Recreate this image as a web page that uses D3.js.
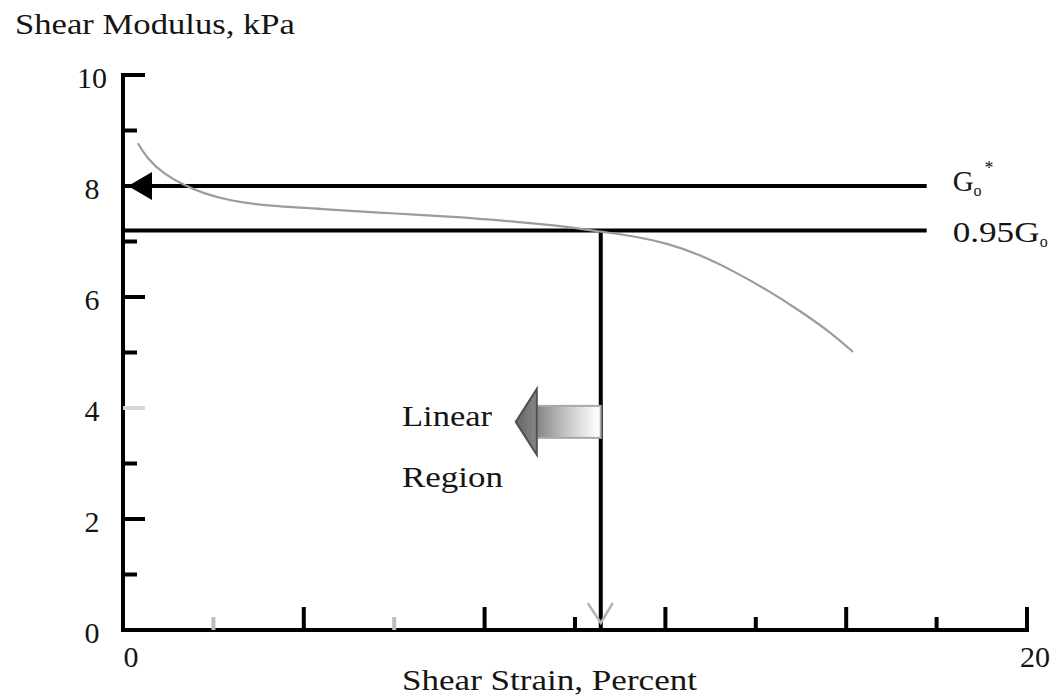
<!DOCTYPE html>
<html><head><meta charset="utf-8">
<script src="https://cdn.jsdelivr.net/npm/d3@7"></script>
<style>
body{margin:0;background:#fff}
text{font-family:"Liberation Serif","Times New Roman",serif;fill:#151515}
</style>
</head><body><svg id="c" width="1057" height="696"></svg>
<script>
// ---- data ----
const strainPct    = [0.33,0.53,0.88,1.33,1.77,2.37,3.25,4.36,5.84,7.30,8.78,9.73,10.62,11.28,12.04,12.77,13.50,14.25,14.98,15.71,16.15];
const shearModulus = [8.77,8.50,8.23,8.02,7.87,7.73,7.64,7.59,7.51,7.45,7.35,7.28,7.17,7.10,6.97,6.76,6.47,6.13,5.75,5.33,5.01];
const xMajorTicks = [0,4,8,12,16,20];
const xMinorTicks = [2,6,10,14,18];
const yMajorTicks = [0,2,4,6,8,10];
const yMinorTicks = [1,3,5,7,9];
const xTickLabels = {0:"0",20:"20"};
const yTickLabels = ["0","2","4","6","8","10"];
const faintXTicks = [2,6];
const faintYTicks = [4];
const refLevels = [8, 7.2];
const refLineEnd = 17.78;
const linearLimit = 10.57;
const linearArrowTip = 8.69, linearArrowY = 3.75;
const yTitle = "Shear Modulus, kPa";
const xTitle = "Shear Strain, Percent";

// ---- scales ----
const svg = d3.select("#c");
const x = d3.scaleLinear([0,20],[123,1027]);
const y = d3.scaleLinear([0,10],[630,75]);
const AX = 4;

// reference lines
svg.selectAll("line.ref").data(refLevels).join("line")
  .attr("x1", x(0)).attr("x2", x(refLineEnd))
  .attr("y1", d=>y(d)).attr("y2", d=>y(d))
  .attr("stroke","#000").attr("stroke-width",AX);
// vertical linear limit line
svg.append("line").attr("x1",x(linearLimit)).attr("x2",x(linearLimit))
  .attr("y1",y(refLevels[1])).attr("y2",y(0))
  .attr("stroke","#000").attr("stroke-width",AX);

// curve
const pts = strainPct.map((s,i)=>[s,shearModulus[i]]);
svg.append("path").datum(pts)
  .attr("d", d3.line().x(d=>x(d[0])).y(d=>y(d[1])).curve(d3.curveBasis))
  .attr("fill","none").attr("stroke","#9c9c9c").attr("stroke-width",2.2);

// axes
function styleAxis(g){ g.selectAll("path.domain").attr("stroke","#000").attr("stroke-width",AX).attr("stroke-linecap","square"); }
const yAxis = svg.append("g").attr("transform",`translate(${x(0)},0)`)
  .call(d3.axisLeft(y).tickValues(yMajorTicks).tickSize(-22).tickSizeOuter(0).offset(0)
        .tickFormat((d,i)=>yTickLabels[i]));
styleAxis(yAxis);
yAxis.selectAll(".tick line").attr("stroke-width",AX)
  .attr("stroke", d=>faintYTicks.includes(d)?"#d6d6d6":"#000");
yAxis.selectAll(".tick text").attr("x",-31).attr("dy","0.42em")
  .attr("text-anchor","middle").style("font-size","30px").style("font-family","Liberation Serif").attr("fill","#151515");
const yMinor = svg.append("g").attr("transform",`translate(${x(0)},0)`)
  .call(d3.axisLeft(y).tickValues(yMinorTicks).tickSize(-14).tickSizeOuter(0).offset(0).tickFormat(""));
yMinor.select("path.domain").remove();
yMinor.selectAll(".tick line").attr("stroke","#000").attr("stroke-width",AX);

const xAxis = svg.append("g").attr("transform",`translate(0,${y(0)})`)
  .call(d3.axisBottom(x).tickValues(xMajorTicks).tickSize(-23).tickSizeOuter(0).offset(0)
        .tickFormat(d=>xTickLabels[d]||""));
styleAxis(xAxis);
xAxis.selectAll(".tick line").attr("stroke","#000").attr("stroke-width",AX);
xAxis.selectAll(".tick text").attr("x",8).attr("y",26).attr("dy","0.35em")
  .attr("text-anchor","middle").style("font-size","30px").style("font-family","Liberation Serif").attr("fill","#151515");
const xMinor = svg.append("g").attr("transform",`translate(0,${y(0)})`)
  .call(d3.axisBottom(x).tickValues(xMinorTicks).tickSize(-13).tickSizeOuter(0).offset(0).tickFormat(""));
xMinor.select("path.domain").remove();
xMinor.selectAll(".tick line").attr("stroke-width",AX)
  .attr("stroke", d=>faintXTicks.includes(d)?"#bdbdbd":"#000");

// arrowhead on G0 line
const ay = y(refLevels[0]), ax0 = x(0)+5;
svg.append("path").attr("d",`M${ax0},${ay} L${ax0+24},${ay-14} L${ax0+24},${ay+14} Z`).attr("fill","#000");

// V mark at linear limit
const vx = x(linearLimit);
svg.append("path").attr("d",`M${vx-13},${y(0)-27} L${vx},${y(0)-7} L${vx+12},${y(0)-27}`)
  .attr("fill","none").attr("stroke","#b4b4b4").attr("stroke-width",2.5);

// gradient arrow (Linear Region)
const defs = svg.append("defs");
const grad = defs.append("linearGradient").attr("id","lg").attr("gradientUnits","userSpaceOnUse")
  .attr("x1",x(linearArrowTip)).attr("x2",x(linearLimit)).attr("y1",0).attr("y2",0);
[[0,"#666"],[0.3,"#8e8e8e"],[0.6,"#c6c6c6"],[0.95,"#fbfbfb"]].forEach(s=>grad.append("stop").attr("offset",s[0]).attr("stop-color",s[1]));
const tx = x(linearArrowTip), cy = y(linearArrowY), hx = tx+21, ex = x(linearLimit);
svg.append("rect").attr("x",hx).attr("y",cy-16).attr("width",ex-hx).attr("height",32)
  .attr("fill","url(#lg)").attr("stroke","#a8a8a8").attr("stroke-width",2);
svg.append("path").attr("d",`M${tx},${cy} L${hx},${cy-33} L${hx},${cy+33} Z`)
  .attr("fill","url(#lg)").attr("stroke","#505050").attr("stroke-width",2).attr("stroke-linejoin","miter");

// texts
svg.append("text").attr("x",15).attr("y",34).attr("textLength",280).attr("lengthAdjust","spacingAndGlyphs")
  .style("font-size","29px").text(yTitle);
svg.append("text").attr("x",402).attr("y",690).attr("textLength",295).attr("lengthAdjust","spacingAndGlyphs")
  .style("font-size","29px").text(xTitle);
svg.append("text").attr("x",402).attr("y",426).attr("textLength",90).attr("lengthAdjust","spacingAndGlyphs")
  .style("font-size","29px").text("Linear");
svg.append("text").attr("x",402).attr("y",487).attr("textLength",101).attr("lengthAdjust","spacingAndGlyphs")
  .style("font-size","29px").text("Region");

const g0 = svg.append("text").attr("x",x(refLineEnd)+26).attr("y",y(refLevels[0])+5).style("font-size","29px");
g0.append("tspan").text("G");
g0.append("tspan").attr("dy",5).style("font-size","16px").text("o");
g0.append("tspan").attr("dy",-22).attr("dx",3).style("font-size","18px").text("*");
const g95 = svg.append("text").attr("x",x(refLineEnd)+26).attr("y",y(refLevels[1])+12).style("font-size","29px");
g95.append("tspan").attr("textLength",87).attr("lengthAdjust","spacingAndGlyphs").text("0.95G");
g95.append("tspan").attr("dy",5).style("font-size","16px").text("o");
</script>
</body></html>
